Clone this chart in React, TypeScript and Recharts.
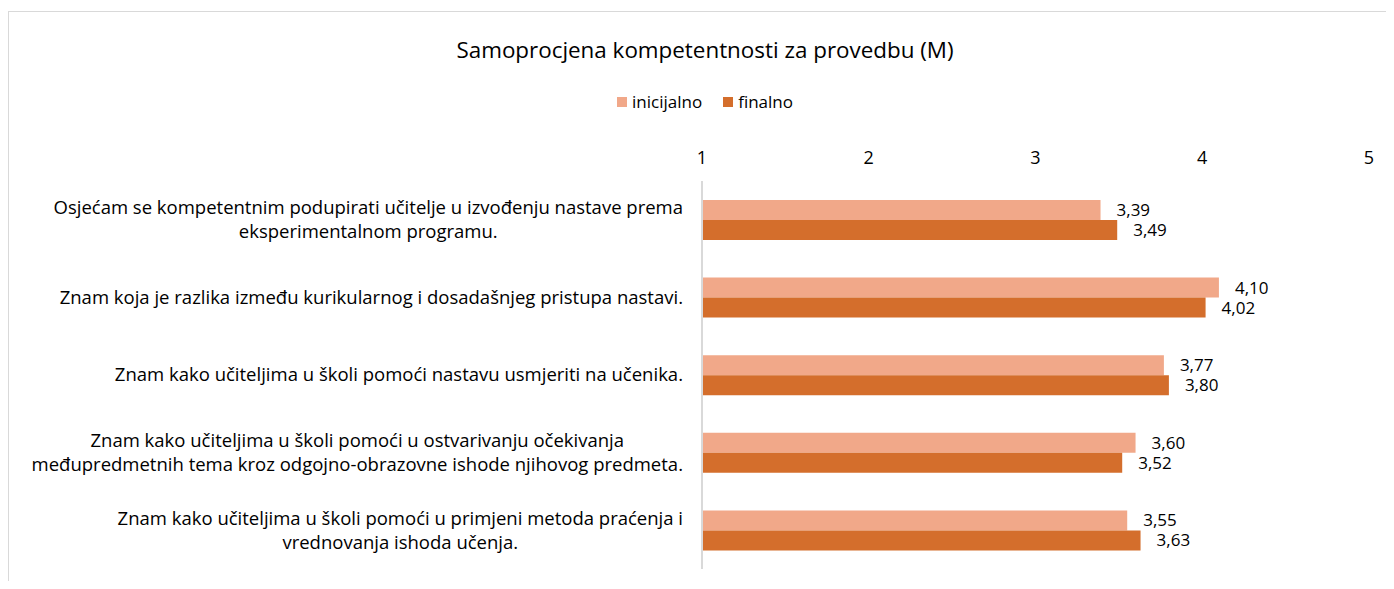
import React from 'react';
import { BarChart, Bar, XAxis, YAxis, LabelList } from 'recharts';

const categories = [
  'Osjećam se kompetentnim podupirati učitelje u izvođenju nastave prema\neksperimentalnom programu.',
  'Znam koja je razlika između kurikularnog i dosadašnjeg pristupa nastavi.',
  'Znam kako učiteljima u školi pomoći nastavu usmjeriti na učenika.',
  'Znam kako učiteljima u školi pomoći u ostvarivanju očekivanja\nmeđupredmetnih tema kroz odgojno-obrazovne ishode njihovog predmeta.',
  'Znam kako učiteljima u školi pomoći u primjeni metoda praćenja i\nvrednovanja ishoda učenja.',
];
const inicijalno = [3.39, 4.1, 3.77, 3.6, 3.55];
const finalno = [3.49, 4.02, 3.8, 3.52, 3.63];
const xTicks = [1, 2, 3, 4, 5];

const FONT = '"Open Sans", "Noto Sans", sans-serif';
const LIGHT = '#F1A889';
const DARK = '#D46E2C';

const data = categories.map((name, i) => ({
  name,
  inicijalno: inicijalno[i],
  finalno: finalno[i],
}));

let ctx: CanvasRenderingContext2D | null = null;
function measure(text: string, font: string) {
  if (!ctx) ctx = document.createElement('canvas').getContext('2d');
  if (!ctx) return text.length * 8;
  ctx.font = font;
  return ctx.measureText(text).width;
}

// category labels: block right-aligned to the axis, lines centred inside it
function CategoryTick(props: any) {
  const { y, payload } = props;
  const lines = String(payload.value).split('\n');
  const size = 18.5;
  const w = Math.max(...lines.map((l) => measure(l, `${size}px ${FONT}`)));
  const right = 675;
  const cx = right - w / 2;
  const lh = 24;
  const startY = y - ((lines.length - 1) * lh) / 2;
  return (
    <text textAnchor="middle" fontFamily={FONT} fontSize={size} fill="#000">
      {lines.map((l, i) => (
        <tspan key={i} x={cx} y={startY + i * lh} dy="0.35em">
          {l}
        </tspan>
      ))}
    </text>
  );
}

const fmt = (v: any) => Number(v).toFixed(2).replace('.', ',');

export default function App() {
  return (
    <div style={{ position: 'relative', width: 1386, height: 573, overflow: 'hidden', fontFamily: FONT }}>
      <div
        style={{
          position: 'absolute',
          top: 3,
          left: 0,
          width: 1420,
          height: 620,
          border: '1px solid #d9d9d9',
          boxSizing: 'border-box',
        }}
      />
      <div
        style={{
          position: 'absolute',
          top: 26,
          left: 0,
          width: 1394,
          textAlign: 'center',
          fontSize: 22.4,
          color: '#000',
        }}
      >
        Samoprocjena kompetentnosti za provedbu (M)
      </div>
      <div
        style={{
          position: 'absolute',
          top: 82,
          left: 0,
          width: 1394,
          display: 'flex',
          justifyContent: 'center',
          alignItems: 'center',
          fontSize: 17,
          color: '#000',
        }}
      >
        <span style={{ display: 'inline-block', width: 10, height: 10, background: LIGHT, marginRight: 5 }} />
        <span style={{ marginRight: 21 }}>inicijalno</span>
        <span style={{ display: 'inline-block', width: 10, height: 10, background: DARK, marginRight: 5 }} />
        <span>finalno</span>
      </div>
      <BarChart
        width={1386}
        height={573}
        data={data}
        layout="vertical"
        margin={{ top: 143, right: 25, left: 0, bottom: 12 }}
        barGap={0}
        barSize={20}
        style={{ position: 'absolute', top: 0, left: 0 }}
      >
        <XAxis
          type="number"
          orientation="top"
          domain={[1, 5]}
          ticks={xTicks}
          height={30}
          axisLine={false}
          tickLine={false}
          tickSize={0}
          tickMargin={17}
          tick={{ fill: '#000', fontSize: 18, fontFamily: FONT }}
        />
        <YAxis
          type="category"
          dataKey="name"
          width={694}
          axisLine={{ stroke: '#d9d9d9', strokeWidth: 2 }}
          tickLine={false}
          tick={<CategoryTick />}
          interval={0}
        />
        <Bar dataKey="inicijalno" name="inicijalno" fill={LIGHT} isAnimationActive={false}>
          <LabelList dataKey="inicijalno" position="right" offset={16} formatter={fmt} fill="#000" fontSize={17} fontFamily={FONT} />
        </Bar>
        <Bar dataKey="finalno" name="finalno" fill={DARK} isAnimationActive={false}>
          <LabelList dataKey="finalno" position="right" offset={16} formatter={fmt} fill="#000" fontSize={17} fontFamily={FONT} />
        </Bar>
      </BarChart>
    </div>
  );
}
